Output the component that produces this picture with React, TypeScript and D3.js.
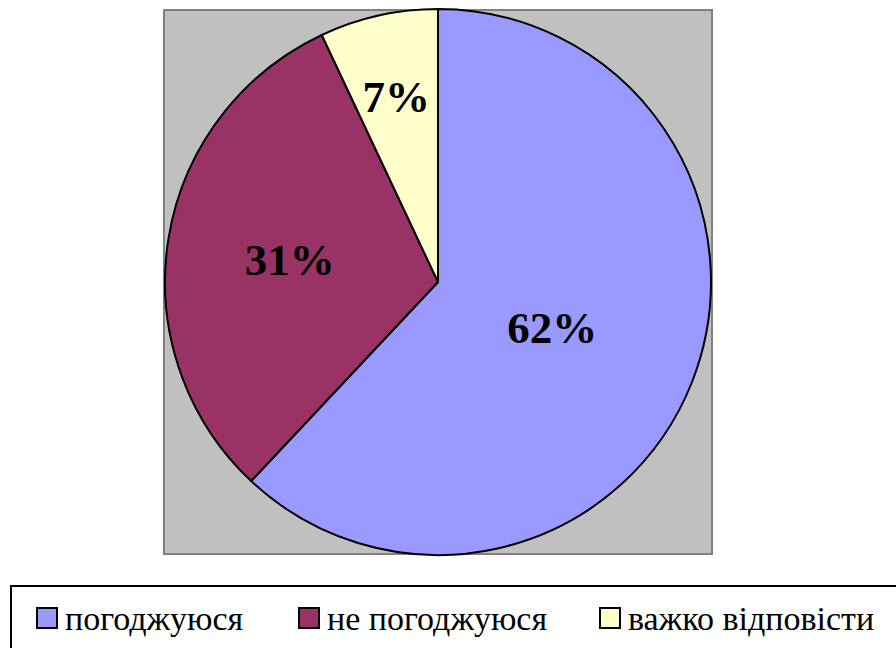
import * as d3 from 'd3'

const categories = ['погоджуюся', 'не погоджуюся', 'важко відповісти']
const values = [62, 31, 7]
const labels = ['62%', '31%', '7%']
const colors = ['#9999ff', '#993366', '#ffffcc']
// how far out (fraction of radius) each percent label sits
const labelRadius = [0.45, 0.55, 0.7]

const W = 896
const H = 648

export default function App() {
  const plot = { x: 164, y: 10, w: 548, h: 544 }
  const cx = 438
  const cy = 282
  const r = 273

  const pie = d3.pie<number>().sort(null).value((d) => d)
  const arcs = pie(values)
  const arc = d3.arc<d3.PieArcDatum<number>>().innerRadius(0).outerRadius(r)

  const legendX = [36, 298, 599]

  return (
    <svg width={W} height={H} style={{ position: 'absolute', left: 0, top: 0 }}>
      <rect x={plot.x} y={plot.y} width={plot.w} height={plot.h} fill="#c0c0c0" stroke="#808080" strokeWidth={2} />
      {arcs.map((d, i) => (
        <path
          key={'s' + i}
          transform={`translate(${cx},${cy})`}
          d={arc(d) || ''}
          fill={colors[i]}
          stroke="#000"
          strokeWidth={2}
          strokeLinejoin="round"
        />
      ))}

      {/* legend */}
      <rect x={11} y={586} width={900} height={80} fill="#fff" stroke="#000" strokeWidth={2} />
      {categories.map((c, i) => (
        <rect
          key={'k' + i}
          x={legendX[i] + 1}
          y={608}
          width={20}
          height={20}
          fill={colors[i]}
          stroke="#000"
          strokeWidth={2}
        />
      ))}

      {arcs.map((d, i) => {
        const lr = r * labelRadius[i]
        const [x, y] = d3.arc<d3.PieArcDatum<number>>().innerRadius(lr).outerRadius(lr).centroid(d)
        return (
          <text
            key={'l' + i}
            x={cx + x}
            y={cy + y + 16}
            textAnchor="middle"
            style={{ fontFamily: '"Liberation Serif"', fontSize: 45, fontWeight: 'bold' }}
          >
            {labels[i]}
          </text>
        )
      })}
      {categories.map((c, i) => (
        <text key={'t' + i} x={legendX[i] + 29} y={630} style={{ fontFamily: '"Liberation Serif"', fontSize: 34 }}>
          {c}
        </text>
      ))}
    </svg>
  )
}
